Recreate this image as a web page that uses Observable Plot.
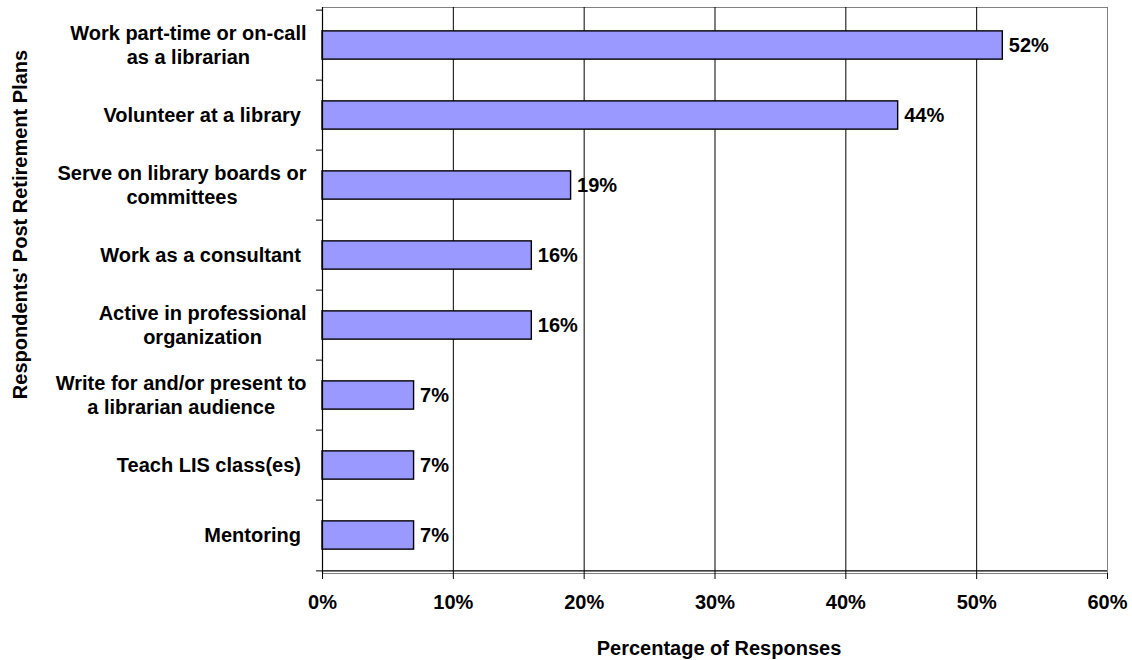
<!DOCTYPE html>
<html>
<head>
<meta charset="utf-8">
<script src="https://cdn.jsdelivr.net/npm/d3@7"></script>
<script src="https://cdn.jsdelivr.net/npm/@observablehq/plot@0.6"></script>
<style>
  html, body { margin: 0; padding: 0; background: #fff; }
  #chart { width: 1132px; height: 660px; }
</style>
</head>
<body>
<div id="chart"></div>
<script>
// ---- data ----
const categories = [
  "Work part-time or on-call\nas a librarian",
  "Volunteer at a library ",
  "Serve on library boards or\ncommittees",
  "Work as a consultant ",
  "Active in professional\norganization",
  "Write for and/or present to\na librarian audience",
  "Teach LIS class(es) ",
  "Mentoring "
];
const values = [52, 44, 19, 16, 16, 7, 7, 7];
const xTicks = [0, 10, 20, 30, 40, 50, 60];
const gridValues = [10, 20, 30, 40, 50];
const xTitle = "Percentage of Responses";
const yTitle = "Respondents' Post Retirement Plans";

const rows = categories.map((c, i) => ({category: c, value: values[i]}));

// ---- layout ----
const W = 1132, H = 660;
const mTop = 7, mBottom = 87, mLeft = 322, mRight = 25;
const FONT = "'Liberation Sans', Arial, Helvetica, sans-serif";
const FS = 20;
const step = (H - mTop - mBottom) / categories.length;
const barH = 29;
const inset = (step - barH) / 2;
const labelGap = 16;
const lineH = 23.5;

// measure label blocks
const ctx = document.createElement("canvas").getContext("2d");
ctx.font = `bold ${FS}px ${FONT}`;
const meas = s => ctx.measureText(s).width;

const labelMarks = [];
categories.forEach(cat => {
  const lines = cat.split("\n");
  const trimmed = lines.map(l => l.replace(/\s+$/, ""));
  const trail = d3.max(lines, (l, i) => meas(l) - meas(trimmed[i]));
  const blockW = d3.max(trimmed, meas);
  const cx = -(labelGap + trail + blockW / 2);
  trimmed.forEach((t, i) => {
    labelMarks.push(Plot.text([cat], {
      y: d => d,
      text: () => t,
      frameAnchor: "left",
      textAnchor: "middle",
      lineAnchor: "middle",
      dx: cx,
      dy: (i - (trimmed.length - 1) / 2) * lineH,
      fontSize: FS,
      fontWeight: "bold",
      fill: "black"
    }));
  });
});

const last = categories[categories.length - 1];

const chart = Plot.plot({
  width: W,
  height: H,
  marginTop: mTop,
  marginBottom: mBottom,
  marginLeft: mLeft,
  marginRight: mRight,
  style: {fontFamily: FONT, fontSize: FS + "px", fontWeight: "bold", color: "black", background: "white"},
  x: {domain: [0, 60], axis: null},
  y: {domain: categories, padding: 0, axis: null},
  marks: [
    Plot.frame({stroke: "#808080", strokeWidth: 1}),
    Plot.ruleX(gridValues, {stroke: "black", strokeWidth: 1}),
    Plot.barX(rows, {
      x: "value", y: "category",
      fill: "#9999FF", stroke: "black", strokeWidth: 1.4,
      insetTop: inset, insetBottom: inset
    }),
    Plot.ruleX([0], {stroke: "black", strokeWidth: 1.2}),
    Plot.ruleY([last], {y: d => d, dy: step / 2, stroke: "black", strokeWidth: 1.2}),
    // category boundary ticks on the y axis
    Plot.axisY(categories, {tickSize: 6, tickFormat: () => "", dy: -step / 2, stroke: "black", label: null}),
    Plot.axisY([last], {tickSize: 6, tickFormat: () => "", dy: step / 2, stroke: "black", label: null}),
    // x axis
    Plot.axisX(xTicks, {
      tickSize: 6, tickPadding: 15,
      tickFormat: d => d + "%",
      fontSize: FS, fontWeight: "bold", label: null, stroke: "black"
    }),
    // value labels
    Plot.text(rows, {
      x: "value", y: "category",
      text: d => d.value + "%",
      textAnchor: "start", dx: 6,
      fontSize: FS, fontWeight: "bold", fill: "black"
    }),
    ...labelMarks,
    // axis titles
    Plot.text([xTitle], {
      text: d => d, frameAnchor: "bottom", textAnchor: "middle", lineAnchor: "middle",
      dx: 4, dy: 75.5, fontSize: FS, fontWeight: "bold", fill: "black"
    }),
    Plot.text([yTitle], {
      text: d => d, frameAnchor: "left", textAnchor: "middle", lineAnchor: "middle", rotate: -90,
      dx: -(mLeft - 20), dy: -66, fontSize: FS, fontWeight: "bold", fill: "black"
    })
  ]
});

document.getElementById("chart").appendChild(chart);
</script>
</body>
</html>
